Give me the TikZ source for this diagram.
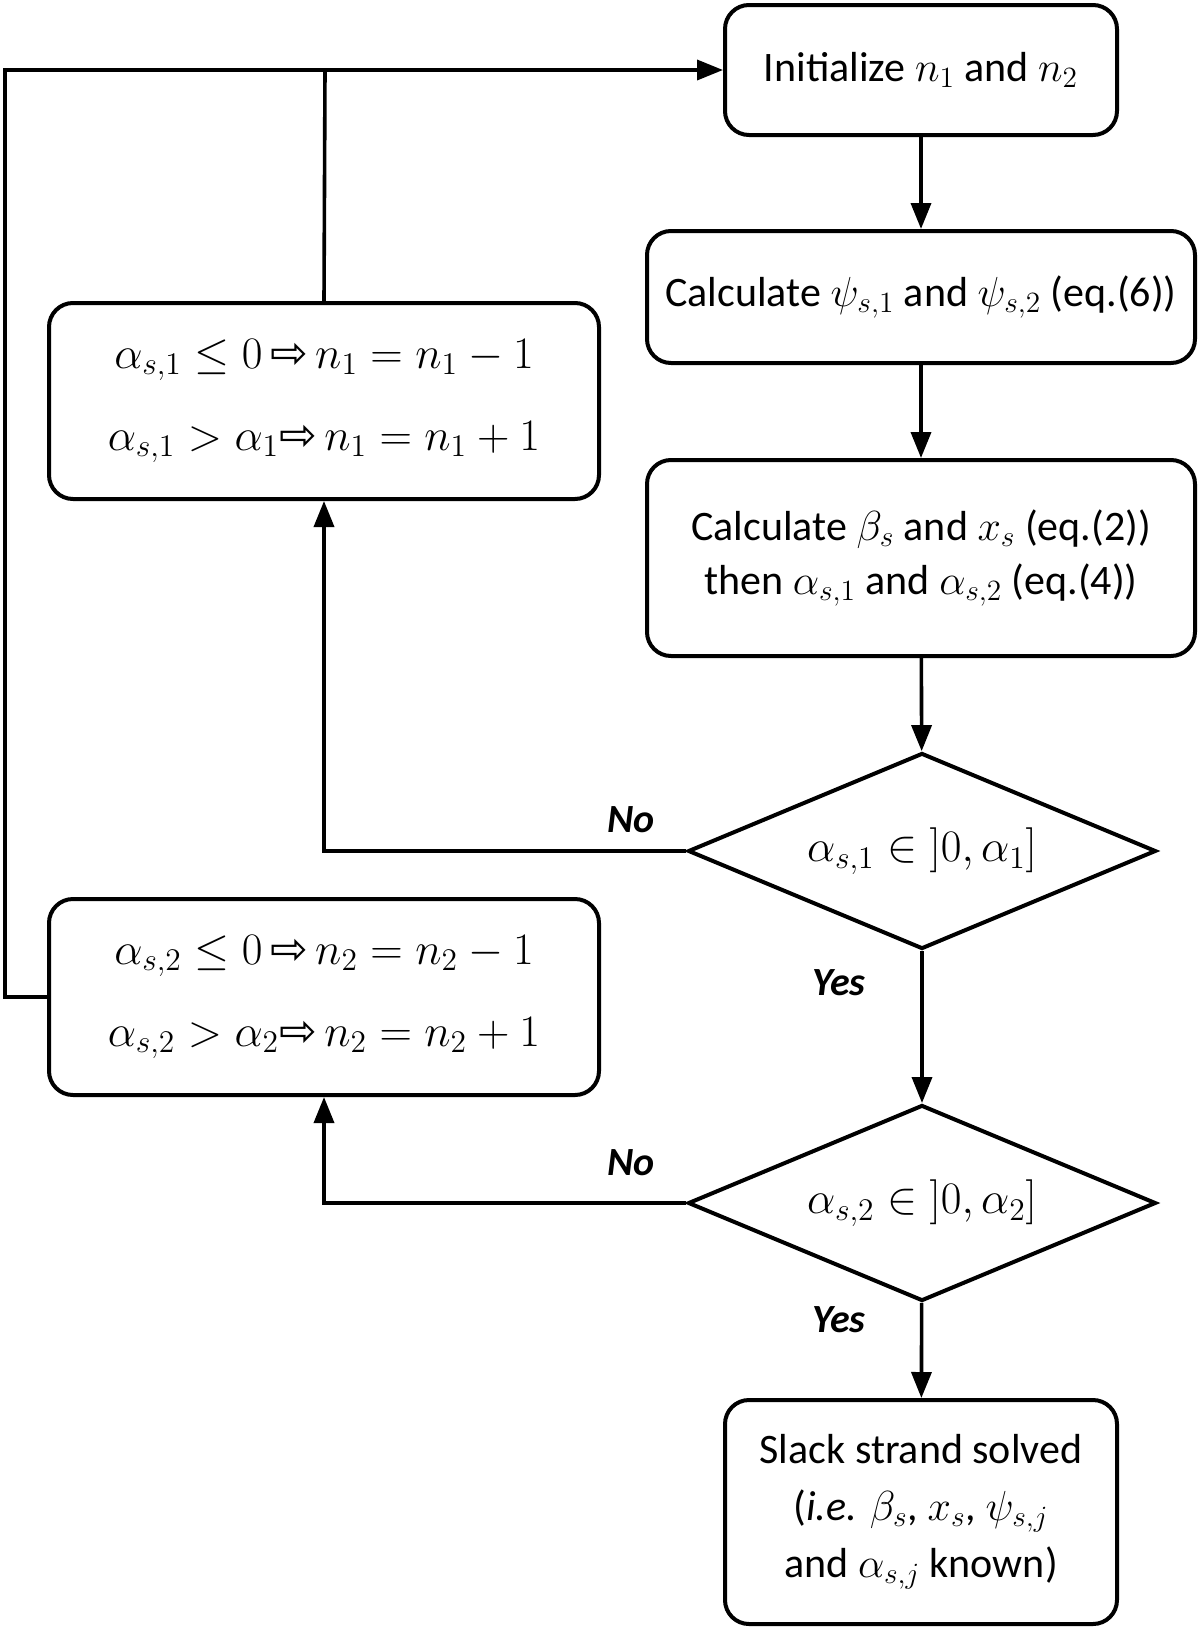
\RequirePackage{fix-cm}
\documentclass[tikz,border=0pt]{standalone}
\usepackage{fontspec}
\setmainfont{Carlito}
\newfontfamily\arrowfont{DejaVu Sans}
\usetikzlibrary{shapes.geometric,arrows.meta}

\newcommand{\imp}{\,\mbox{\arrowfont\char"21E8}\,}

\begin{document}
\begin{tikzpicture}
            [
                x = 0.5pt,
                y = -0.5pt,
                line width = 1.8pt,
                every node/.style={
                    font = \fontsize{21}{27}\selectfont,
                    align = center,
                    inner sep = 0pt
                },
                procbox/.style={
                    draw,
                    rectangle,
                    rounded corners = 12pt,
                    line width = 2pt
                },
                testbox/.style={
                    draw,
                    diamond,
                    minimum width = 234pt,
                    minimum height = 98pt,
                    line width = 2pt,
                    font = \fontsize{22.5}{27}\selectfont
                },
                rulebox/.style={
                    procbox,
                    minimum width = 275pt,
                    minimum height = 98pt,
                    font = \fontsize{22.5}{27}\selectfont
                },
                answer/.style={
                    font = \fontsize{20}{24}\selectfont\bfseries\itshape
                },
                flow/.style={
                    -{Triangle[length=13pt,width=10pt]}
                },
            ]

                \useasboundingbox (0,0) rectangle (1200,1628);

                % main column
                \node [procbox, minimum width = 196pt, minimum height = 65pt] (init) at (921,70)
                    {Initialize $n_1$ and $n_2$};
                \node [procbox, minimum width = 274pt, minimum height = 66pt] (psi) at (921,297)
                    {Calculate $\psi_{s,1}$ and $\psi_{s,2}$ (eq.(6))};
                \node [procbox, minimum width = 274pt, minimum height = 98pt] (beta) at (921,558)
                    {Calculate $\beta_s$ and $x_s$ (eq.(2))\\
                     then $\alpha_{s,1}$ and $\alpha_{s,2}$ (eq.(4))};
                \node [testbox] (test1) at (922,851)
                    {\makebox[0pt]{$\alpha_{s,1} \in \mathopen{]}0, \alpha_1\mathclose{]}$}};
                \node [testbox] (test2) at (922,1203)
                    {\makebox[0pt]{$\alpha_{s,2} \in \mathopen{]}0, \alpha_2\mathclose{]}$}};
                \node [procbox, minimum width = 196pt, minimum height = 112pt,
                       font = \fontsize{21}{28.5}\selectfont] (solved) at (921,1512)
                    {Slack strand solved\\
                     (\textit{i.e.} $\beta_s$, $x_s$, $\psi_{s,j}$\\
                     and $\alpha_{s,j}$ known)};

                % update boxes
                \node [rulebox] (upd1) at (324,401)
                    {$\alpha_{s,1} \leq 0 \imp n_1 = n_1 - 1$\\[14pt]
                     $\alpha_{s,1} > \alpha_1\!\imp n_1 = n_1 + 1$};
                \node [rulebox] (upd2) at (324,997)
                    {$\alpha_{s,2} \leq 0 \imp n_2 = n_2 - 1$\\[14pt]
                     $\alpha_{s,2} > \alpha_2\!\imp n_2 = n_2 + 1$};

                % loop corners
                \coordinate (top) at (325,70);
                \coordinate (far) at (5,70);

                \draw [flow] (init) -- (psi);
                \draw [flow] (psi) -- (beta);
                \draw [flow] (beta) -- (test1);
                \draw [flow] (test1) -- (test2);
                \draw [flow] (test2) -- (solved);

                \draw [flow] (test1.west) -| (upd1.south);
                \draw [flow] (test2.west) -| (upd2.south);

                \draw (upd1.north) -- (top);
                \draw [flow] (upd2.west) -| (far) -- (init.west);

                \node [answer] (no1) at (631,820) {No};
                \node [answer] (yes1) at (839,983) {Yes};
                \node [answer] (no2) at (631,1163) {No};
                \node [answer] (yes2) at (839,1320) {Yes};
            \end{tikzpicture}
\end{document}
